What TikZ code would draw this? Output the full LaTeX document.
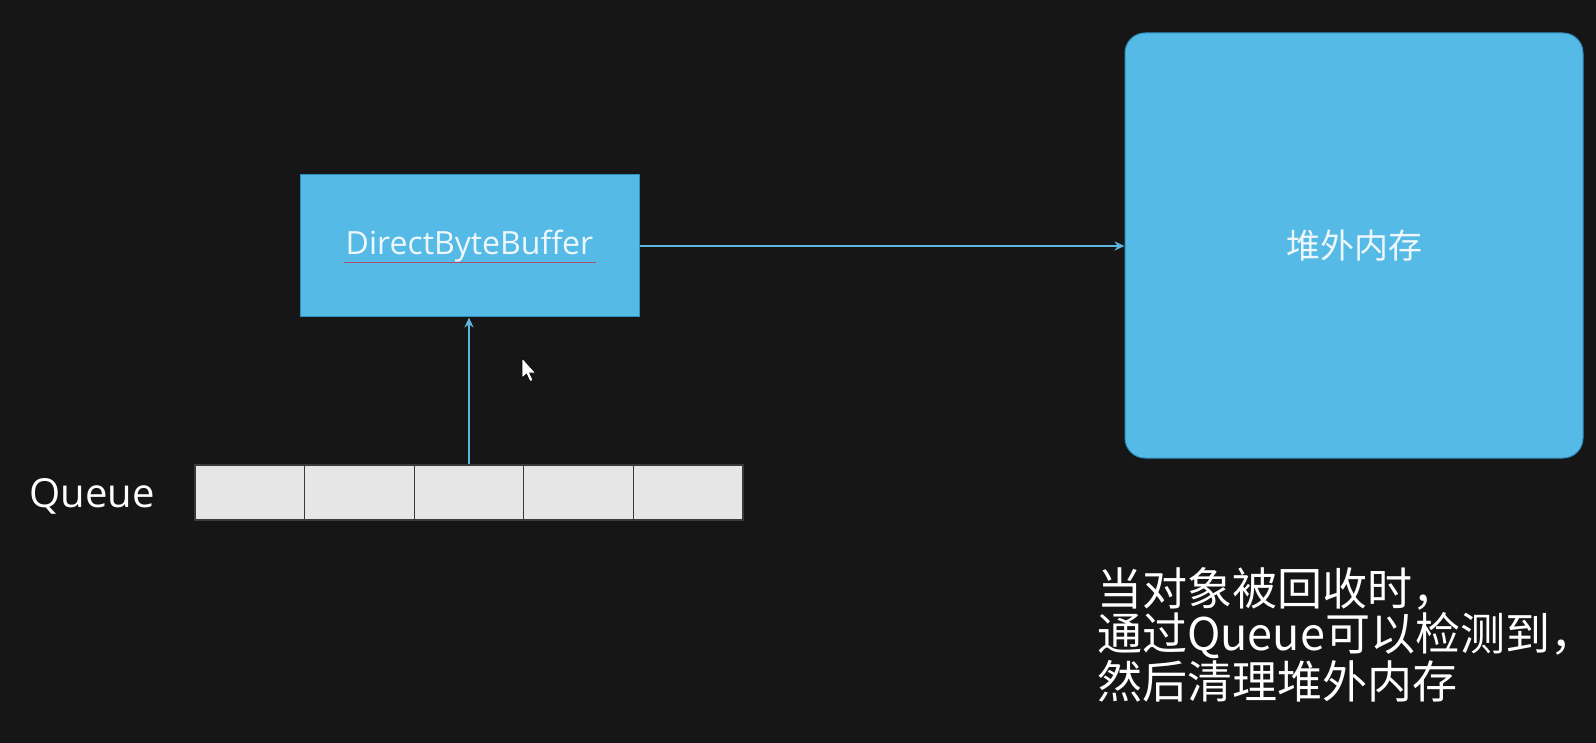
\documentclass[tikz,border=0pt]{standalone}
\usepackage{fontspec}
\setmainfont{Open Sans}
\newfontfamily\cjk{Noto Sans CJK SC}
\usetikzlibrary{arrows.meta,calc}
\definecolor{bg}{HTML}{161616}
\definecolor{boxblue}{HTML}{55BAE5}
\definecolor{edgeblue}{HTML}{2E8FBF}
\definecolor{arrowblue}{HTML}{5DB6DE}
\definecolor{cellgray}{HTML}{E6E6E6}
\definecolor{celledge}{HTML}{3A3A3A}
\definecolor{txtwhite}{HTML}{EEF7FB}
\definecolor{spellred}{HTML}{B0506E}
\begin{document}
\begin{tikzpicture}[x=1pt,y=-1pt,
  bluebox/.style={draw=edgeblue,line width=1pt,fill=boxblue,inner sep=0pt,text=txtwhite},
  cellbox/.style={draw=celledge,line width=1.2pt,fill=cellgray,minimum width=109.6pt,minimum height=55pt,inner sep=0pt},
  conn/.style={draw=arrowblue,line width=2.6pt,-{Stealth[length=10pt,width=9pt]}},
  plain/.style={text=white,inner sep=0pt}]
\fill[bg] (0,0) rectangle (1596,743);
\useasboundingbox (0,0) rectangle (1596,743);
% boxes
\node[bluebox,minimum width=339pt,minimum height=142pt,font=\fontsize{32}{36}\selectfont] (dbb) at (469.5,246) {DirectByteBuffer};
\draw[spellred,line width=1pt] ($(dbb.center)+(-126,17)$) -- ($(dbb.center)+(126,17)$);
\node[bluebox,rounded corners=20pt,minimum width=458pt,minimum height=425pt,font=\cjk\fontsize{34}{38}\selectfont] (heap) at (1354,245.5) {堆外内存};
% queue
\foreach \i in {0,...,4} {
  \node[cellbox] (c\i) at ({249.8+109.6*\i},492.5) {};
}
\node[plain,font=\fontsize{40}{44}\selectfont] (qlabel) at (92,496) {Queue};
% connectors
\draw[conn] (dbb.east) -- (dbb.east -| heap.west);
\draw[conn] (c2.north) -- (c2.north |- dbb.south);
% cursor
\filldraw[fill=white,draw=black,line width=0.6pt] (522,358) -- ++(0,20) -- ++(4.5,-4) -- ++(3.5,7.5) -- ++(3,-1.3) -- ++(-3.4,-7.2) -- ++(6,0) -- cycle;
% note
\node[plain,anchor=north west,align=left,font=\cjk\fontsize{45}{45.5}\selectfont] (note) at (1097,567) {当对象被回收时，\\通过Queue可以检测到，\\然后清理堆外内存};
\end{tikzpicture}
\end{document}
